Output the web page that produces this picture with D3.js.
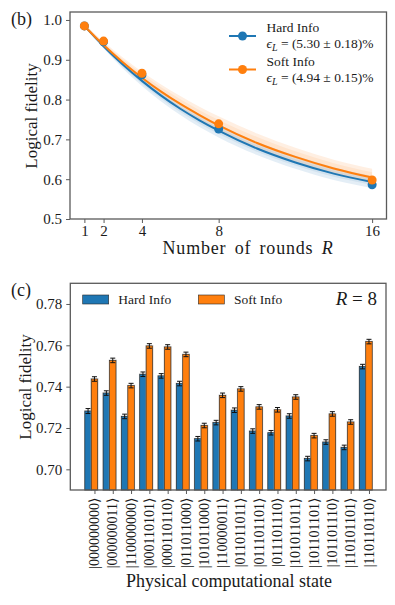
<!DOCTYPE html>
<html><head><meta charset="utf-8">
<script src="https://cdn.jsdelivr.net/npm/d3@7"></script>
<style>
html,body{margin:0;padding:0;background:#fff;}
</style></head>
<body>
<svg id="c" width="395" height="605"></svg>
<script>
// ---- Panel (b) data ----
const rounds = [1, 2, 4, 8, 16];
const hardPoints = [0.985, 0.945, 0.862, 0.726, 0.586];
const softPoints = [0.985, 0.947, 0.866, 0.739, 0.598];
const fitRounds = [1, 2, 3, 4, 5, 6, 7, 8, 10, 12, 14, 16];
const hardFit  = [0.985, 0.934, 0.888, 0.847, 0.810, 0.777, 0.748, 0.722, 0.677, 0.642, 0.614, 0.593];
const hardLow  = [0.983, 0.928, 0.878, 0.834, 0.795, 0.761, 0.731, 0.705, 0.661, 0.626, 0.598, 0.578];
const hardHigh = [0.988, 0.940, 0.896, 0.858, 0.823, 0.791, 0.763, 0.738, 0.694, 0.659, 0.630, 0.608];
const softFit  = [0.985, 0.937, 0.894, 0.855, 0.820, 0.789, 0.761, 0.735, 0.691, 0.656, 0.627, 0.604];
const softLow  = [0.983, 0.932, 0.887, 0.846, 0.810, 0.777, 0.748, 0.722, 0.678, 0.643, 0.614, 0.592];
const softHigh = [0.990, 0.946, 0.906, 0.870, 0.838, 0.809, 0.782, 0.758, 0.715, 0.679, 0.649, 0.626];
const yTicksB = [0.5, 0.6, 0.7, 0.8, 0.9, 1.0];
const legendB = [
  {name: "Hard Info", eps: " = (5.30 \u00b1 0.18)%"},
  {name: "Soft Info", eps: " = (4.94 \u00b1 0.15)%"}
];

// ---- Panel (c) data ----
const states = ["000000000","000000011","110000000","000110101","000110110","011011000",
  "101011000","110000011","011011011","011101101","011101110","101011011",
  "101101101","101101110","110101101","110110110"];
const hardFid = [0.7282,0.7369,0.7256,0.7460,0.7452,0.7415,0.7148,0.7226,0.7286,0.7185,0.7177,0.7258,0.7052,0.7132,0.7106,0.7497];
const softFid = [0.7437,0.7527,0.7405,0.7597,0.7592,0.7556,0.7212,0.7358,0.7389,0.7302,0.7288,0.7350,0.7163,0.7268,0.7229,0.7618];
const hardErr = [0.0012,0.0011,0.0011,0.0011,0.0011,0.0011,0.0011,0.0011,0.0011,0.0011,0.0011,0.0011,0.0011,0.0011,0.0011,0.0011];
const softErr = [0.0011,0.0011,0.0011,0.0011,0.0011,0.0011,0.0011,0.0011,0.0011,0.0011,0.0011,0.0011,0.0011,0.0011,0.0011,0.0011];
const yTicksC = [0.70, 0.72, 0.74, 0.76, 0.78];

const BLUE = "#1f77b4", ORANGE = "#ff7f0e", SPINE = "#5a5a5a";
const FONT = "'Liberation Serif', 'Times New Roman', serif";
const svg = d3.select("#c");

// ================= Panel (b) =================
const xb = d3.scaleLinear().domain([0.25, 16.75]).range([70, 386.5]);
const yb = d3.scaleLinear().domain([0.5, 1.02]).range([219, 12]);
const gb = svg.append("g");

function band(low, high, color, op) {
  const area = d3.area().x((d, i) => xb(fitRounds[i])).y0((d, i) => yb(low[i])).y1((d, i) => yb(high[i])).curve(d3.curveMonotoneX);
  gb.append("path").datum(low).attr("d", area).attr("fill", color).attr("opacity", op);
  const mid = (a, b, t) => a.map((v, i) => v + (b[i] - v) * t);
  const lo2 = mid(low, high, 0.25), hi2 = mid(low, high, 0.75);
  const area2 = d3.area().x((d, i) => xb(fitRounds[i])).y0((d, i) => yb(lo2[i])).y1((d, i) => yb(hi2[i])).curve(d3.curveMonotoneX);
  gb.append("path").datum(low).attr("d", area2).attr("fill", color).attr("opacity", op * 0.8);
}
band(hardLow, hardHigh, BLUE, 0.12);
band(softLow, softHigh, ORANGE, 0.12);

const line = d3.line().x((d, i) => xb(fitRounds[i])).y(d => yb(d)).curve(d3.curveMonotoneX);
gb.append("path").datum(hardFit).attr("d", line).attr("fill", "none").attr("stroke", BLUE).attr("stroke-width", 2);
gb.append("path").datum(softFit).attr("d", line).attr("fill", "none").attr("stroke", ORANGE).attr("stroke-width", 2);
gb.selectAll("circle.h").data(hardPoints).join("circle").attr("class", "h")
  .attr("cx", (d, i) => xb(rounds[i])).attr("cy", d => yb(d)).attr("r", 4.5).attr("fill", BLUE);
gb.selectAll("circle.s").data(softPoints).join("circle").attr("class", "s")
  .attr("cx", (d, i) => xb(rounds[i])).attr("cy", d => yb(d)).attr("r", 4.5).attr("fill", ORANGE);

const axB = gb.append("g").attr("transform", "translate(0,219)")
  .call(d3.axisBottom(xb).tickValues(rounds).tickSize(4).tickPadding(2).tickFormat(d3.format("d")));
const ayB = gb.append("g").attr("transform", "translate(70,0)")
  .call(d3.axisLeft(yb).tickValues(yTicksB).tickSize(4).tickPadding(4).tickFormat(d3.format(".1f")));
[axB, ayB].forEach(a => {
  a.select(".domain").remove();
  a.selectAll(".tick line").attr("stroke", SPINE).attr("stroke-width", 1);
  a.selectAll("text").attr("font-size", 15);
});
gb.append("rect").attr("x", 70).attr("y", 12).attr("width", 316.5).attr("height", 207)
  .attr("fill", "none").attr("stroke", SPINE).attr("stroke-width", 1.3);

legendB.forEach((d, i) => {
  const y0 = 36 + i * 33.5;
  const col = i === 0 ? BLUE : ORANGE;
  gb.append("line").attr("x1", 229).attr("x2", 256).attr("y1", y0).attr("y2", y0).attr("stroke", col).attr("stroke-width", 2);
  gb.append("circle").attr("cx", 242.5).attr("cy", y0).attr("r", 4.5).attr("fill", col);
  gb.append("text").attr("x", 266.5).attr("y", y0 - 4).attr("font-size", 13.5).text(d.name);
  const t = gb.append("text").attr("x", 266.5).attr("y", y0 + 12).attr("font-size", 13.5);
  t.append("tspan").attr("font-style", "italic").text("\u03f5");
  t.append("tspan").attr("font-style", "italic").attr("font-size", 10).attr("dy", 3).text("L");
  t.append("tspan").attr("dy", -3).text(d.eps);
});

svg.append("text").attr("x", 11).attr("y", 25).attr("font-size", 18).text("(b)");
const xlb = svg.append("text").attr("x", 248).attr("y", 254).attr("text-anchor", "middle").attr("font-size", 18)
  .style("letter-spacing", "0.8px").style("word-spacing", "3px");
xlb.append("tspan").text("Number of rounds ");
xlb.append("tspan").attr("font-style", "italic").text("R");
svg.append("text").attr("transform", "translate(37,116) rotate(-90)").attr("text-anchor", "middle").attr("font-size", 17).text("Logical fidelity");

// ================= Panel (c) =================
const xc = d3.scaleLinear().domain([-1.32, 15.93]).range([70.3, 386]);
const yc = d3.scaleLinear().domain([0.69, 0.79]).range([490, 283.3]);
const gc = svg.append("g");
const bw = 0.35;
const pxw = xc(bw) - xc(0);

function bars(vals, errs, offset, color) {
  gc.selectAll(null).data(vals).join("rect")
    .attr("x", (d, i) => xc(i + offset - bw / 2)).attr("width", pxw)
    .attr("y", d => yc(d)).attr("height", d => 490 - yc(d))
    .attr("fill", color).attr("stroke", "#999").attr("stroke-width", 1.6).attr("stroke-opacity", 0.6);
  gc.selectAll(null).data(vals).join("rect")
    .attr("x", (d, i) => xc(i + offset - bw / 2)).attr("width", pxw)
    .attr("y", d => yc(d)).attr("height", d => 490 - yc(d))
    .attr("fill", color).attr("stroke", "#2a2a2a").attr("stroke-width", 0.6);
  vals.forEach((v, i) => {
    const cx = xc(i + offset);
    const e = errs[i];
    gc.append("line").attr("x1", cx).attr("x2", cx).attr("y1", yc(v - e)).attr("y2", yc(v + e)).attr("stroke", "#111").attr("stroke-width", 1);
    [v - e, v + e].forEach(w => gc.append("line").attr("x1", cx - 2.5).attr("x2", cx + 2.5).attr("y1", yc(w)).attr("y2", yc(w)).attr("stroke", "#111").attr("stroke-width", 1));
  });
}
bars(hardFid, hardErr, -bw, BLUE);
bars(softFid, softErr, 0, ORANGE);

const axC = gc.append("g").attr("transform", "translate(0,490)")
  .call(d3.axisBottom(xc).tickValues(d3.range(states.length)).tickSize(4).tickFormat(""));
const ayC = gc.append("g").attr("transform", "translate(70.3,0)")
  .call(d3.axisLeft(yc).tickValues(yTicksC).tickSize(4).tickPadding(4).tickFormat(d3.format(".2f")));
[axC, ayC].forEach(a => {
  a.select(".domain").remove();
  a.selectAll(".tick line").attr("stroke", SPINE).attr("stroke-width", 1);
  a.selectAll("text").attr("font-size", 15);
});
gc.append("rect").attr("x", 70.3).attr("y", 283.3).attr("width", 315.7).attr("height", 206.7)
  .attr("fill", "none").attr("stroke", SPINE).attr("stroke-width", 1.3);

states.forEach((s, i) => {
  gc.append("text").attr("transform", `translate(${xc(i)},498) rotate(-90)`)
    .attr("text-anchor", "end").attr("dy", "0.33em").attr("font-size", 14)
    .text("|" + s + "\u27e9");
});

[{n: "Hard Info", c: BLUE, x: 82.7}, {n: "Soft Info", c: ORANGE, x: 198.3}].forEach(d => {
  gc.append("rect").attr("x", d.x).attr("y", 295).attr("width", 26).attr("height", 9)
    .attr("fill", d.c).attr("stroke", "#2a2a2a").attr("stroke-width", 0.6);
  gc.append("text").attr("x", d.x + 35.6).attr("y", 304).attr("font-size", 13.5).text(d.n);
});
const r8 = gc.append("text").attr("x", 377).attr("y", 305).attr("text-anchor", "end").attr("font-size", 19);
r8.append("tspan").attr("font-style", "italic").text("R");
r8.append("tspan").text(" = 8");

svg.append("text").attr("x", 11).attr("y", 296).attr("font-size", 18).text("(c)");
svg.append("text").attr("x", 229).attr("y", 587).attr("text-anchor", "middle").attr("font-size", 18).text("Physical computational state");
svg.append("text").attr("transform", "translate(31,387) rotate(-90)").attr("text-anchor", "middle").attr("font-size", 17).text("Logical fidelity");

svg.selectAll("text").style("font-family", FONT).style("fill", "#1a1a1a");
</script>
</body></html>
